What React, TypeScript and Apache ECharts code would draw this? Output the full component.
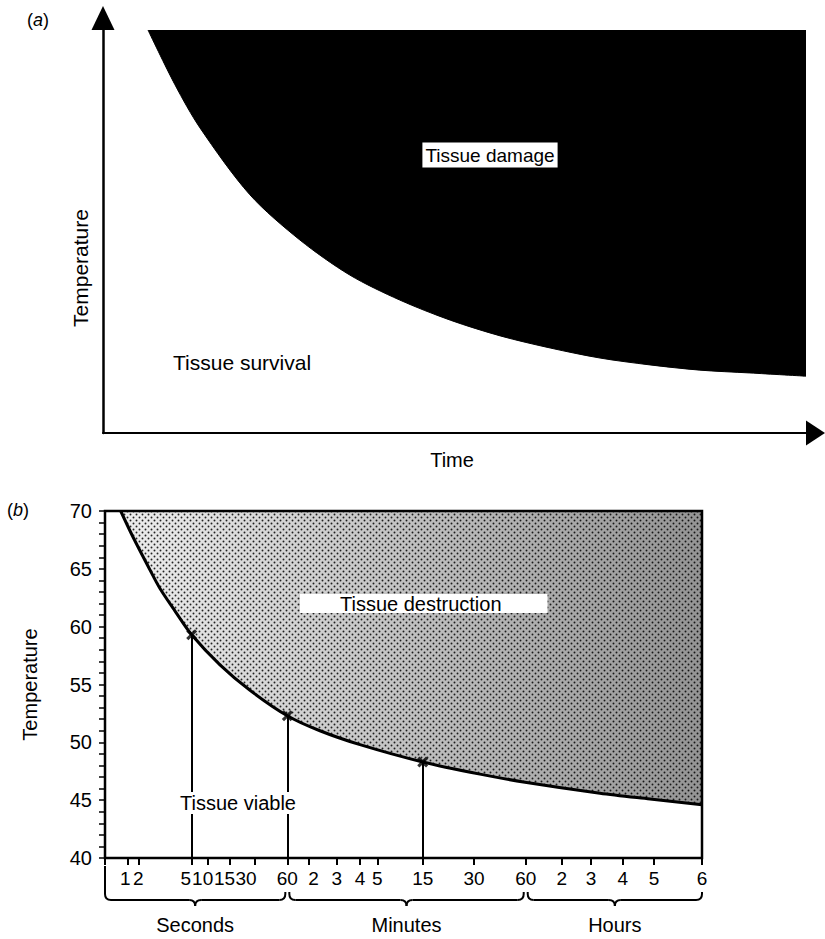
import { useEffect, useRef } from 'react';
import * as echarts from 'echarts';

const FONT = '"Liberation Sans", Arial, Helvetica, sans-serif';

// (a) schematic damage boundary, both axes on an arbitrary 0–100 scale
const damageTime = [6.4, 10.24, 13.8, 20.9, 28.0, 35.1, 42.2, 49.4, 56.5, 63.6, 70.7, 77.8, 84.9, 92.0, 100];
const damageTemp = [100, 86.4, 75.7, 59.1, 47.9, 39.2, 33.0, 28.0, 24.1, 21.1, 18.6, 16.9, 15.6, 14.9, 14.1];

// (b) time axis: tick labels and where each sits along the 0–100 time scale
const timeTickLabels = ['1', '2', '5', '10', '15', '30', '60', '2', '3', '4', '5', '15', '30', '60', '2', '3', '4', '5', '6'];
const timeTickPos = [3.8, 5.58, 14.52, 17.2, 20.94, 25.13, 30.54, 34.17, 38.81, 42.71, 45.61, 53.22, 61.81, 70.47, 76.5, 81.41, 86.72, 91.96, 100];
// sideways nudge (px) for labels squeezed together on the seconds scale
const labelNudge = [-2.5, 0, -6, -5, -5.5, -9, 0, 4.5, 0, 0, 0, 0, 0, 0, 0, 0, 0, 0, 0];
const timeUnits = ['Seconds', 'Minutes', 'Hours'];
const unitBounds = [0, 30.54, 70.47, 100];

// (b) threshold temperature (°C) against time position
const curveTime = [2.63, 4.69, 7.54, 9.21, 11.73, 14.52, 19.26, 24.29, 30.54, 36.0, 42.71, 53.22, 62.8, 70.35, 82.91, 91.29, 100];
const curveTemp = [70, 67.75, 64.9, 63.3, 61.35, 59.3, 56.7, 54.5, 52.3, 51.0, 49.8, 48.3, 47.25, 46.55, 45.6, 45.1, 44.6];

// marked points at 5 s, 60 s and 15 min
const markTime = [14.52, 30.54, 53.22];
const markTemp = [59.3, 52.3, 48.3];

const CROSS = 'path://M0,2L2,0L5,3L8,0L10,2L7,5L10,8L8,10L5,7L2,10L0,8L3,5Z';

export default function App() {
  const ref = useRef<HTMLDivElement>(null);

  useEffect(() => {
    const el = ref.current!;
    const chart = echarts.init(el, undefined, { renderer: 'svg' });

    // stipple tile for the destruction zone
    const tile = document.createElement('canvas');
    tile.width = 6;
    tile.height = 6;
    const ctx = tile.getContext('2d')!;
    ctx.fillStyle = 'rgba(0,0,0,0.85)';
    [[1.5, 1.5], [4.5, 4.5]].forEach(([cx, cy]) => {
      ctx.beginPath();
      ctx.arc(cx, cy, 0.95, 0, Math.PI * 2);
      ctx.fill();
    });

    const damageData = damageTime.map((t, i) => [t, damageTemp[i]]);
    const curveData = curveTime.map((t, i) => [t, curveTemp[i]]);
    const markData = markTime.map((t, i) => [t, markTemp[i]]);

    const rich: Record<string, any> = {};
    labelNudge.forEach((n, i) => {
      rich['p' + i] = {
        fontSize: 19,
        fontFamily: FONT,
        color: '#000',
        padding: n > 0 ? [0, 0, 0, 2 * n] : [0, -2 * n, 0, 0],
      };
    });

    const option: any = {
      animation: false,
      backgroundColor: '#fff',
      textStyle: { fontFamily: FONT, color: '#000' },
      grid: [
        { left: 103, top: 30, width: 703, height: 403, show: false },
        { left: 105, top: 511, width: 597, height: 347, show: true, borderColor: '#000', borderWidth: 2.5 },
      ],
      xAxis: [
        {
          gridIndex: 0, type: 'value', min: 0, max: 100,
          axisLine: {
            show: true, onZero: false, symbol: ['none', 'triangle'], symbolSize: [25, 19], symbolOffset: [0, 9.5],
            lineStyle: { color: '#000', width: 2 },
          },
          axisTick: { show: false }, axisLabel: { show: false }, splitLine: { show: false },
        },
        {
          gridIndex: 1, type: 'value', min: 0, max: 100,
          axisLine: { show: true, onZero: false, lineStyle: { color: '#000', width: 2 } },
          axisTick: { show: true, customValues: [0, ...timeTickPos], length: 7, lineStyle: { color: '#000', width: 2 } },
          axisLabel: {
            show: true, customValues: timeTickPos, margin: 11, fontSize: 19, color: '#000', rich,
            formatter: (v: number) => {
              const i = timeTickPos.findIndex((p) => Math.abs(p - v) < 1e-6);
              return i < 0 ? '' : `{p${i}|${timeTickLabels[i]}}`;
            },
          },
          splitLine: { show: false },
        },
      ],
      yAxis: [
        {
          gridIndex: 0, type: 'value', min: 0, max: 100,
          axisLine: {
            show: true, onZero: false, symbol: ['none', 'triangle'], symbolSize: [23, 24], symbolOffset: [0, 12],
            lineStyle: { color: '#000', width: 2.5 },
          },
          axisTick: { show: false }, axisLabel: { show: false }, splitLine: { show: false },
        },
        {
          gridIndex: 1, type: 'value', min: 40, max: 70, interval: 1,
          name: 'Temperature', nameLocation: 'middle', nameGap: 65, nameRotate: 90,
          nameTextStyle: { fontSize: 20, color: '#000', fontFamily: FONT },
          axisLine: { show: true, onZero: false, lineStyle: { color: '#000', width: 2 } },
          axisTick: { show: true, length: 6, lineStyle: { color: '#000', width: 1.5 } },
          axisLabel: {
            fontSize: 20, color: '#000', margin: 13,
            formatter: (v: number) => (v % 5 === 0 ? String(v) : ''),
          },
          splitLine: { show: false },
        },
      ],
      series: [
        {
          type: 'line', xAxisIndex: 0, yAxisIndex: 0, data: damageData, smooth: 0.3, showSymbol: false,
          lineStyle: { color: '#000', width: 1 },
          areaStyle: { color: '#000', opacity: 1, origin: 'end' },
        },
        {
          type: 'line', xAxisIndex: 1, yAxisIndex: 1, data: curveData, smooth: 0.3, showSymbol: false,
          lineStyle: { opacity: 0 },
          areaStyle: {
            origin: 'end', opacity: 1,
            color: new echarts.graphic.LinearGradient(0, 0, 1, 0, [
              { offset: 0, color: 'rgba(0,0,0,0.07)' },
              { offset: 1, color: 'rgba(0,0,0,0.42)' },
            ]),
          },
        },
        {
          type: 'line', xAxisIndex: 1, yAxisIndex: 1, data: curveData, smooth: 0.3, showSymbol: false,
          lineStyle: { opacity: 0 },
          areaStyle: { origin: 'end', opacity: 1, color: { image: tile, repeat: 'repeat' } },
        },
        {
          type: 'line', xAxisIndex: 1, yAxisIndex: 1, data: curveData, smooth: 0.3, showSymbol: false, z: 5,
          lineStyle: { color: '#000', width: 3 },
        },
        {
          type: 'scatter', xAxisIndex: 1, yAxisIndex: 1, data: markData, symbol: CROSS, symbolSize: 11, z: 6,
          itemStyle: { color: '#000' },
          markLine: {
            silent: true, symbol: ['none', 'none'],
            lineStyle: { color: '#000', width: 2, type: 'solid' },
            label: { show: false },
            data: markData.map(([t, v]) => [{ coord: [t, 40] }, { coord: [t, v] }]),
          },
        },
      ],
    };

    chart.setOption(option);

    // time-unit braces under the axis, placed from the axis scale
    const toX = (v: number) => (chart.convertToPixel({ gridIndex: 1 } as any, [v, 40]) as number[])[0];
    const y1 = 900;
    const r = 6;
    const braceEls: any[] = [];
    const stroke = { stroke: '#000', lineWidth: 2, fill: 'none' };
    timeUnits.forEach((name, i) => {
      const xs = toX(unitBounds[i]) + (i > 0 ? 2 : 0);
      const xe = toX(unitBounds[i + 1]) - (i < timeUnits.length - 1 ? 2 : 0);
      const mid = (xs + xe) / 2;
      const topL = i === 0 ? 866 : 892;
      braceEls.push(
        { type: 'line', shape: { x1: xs, y1: topL, x2: xs, y2: y1 - r }, style: stroke, z: 100 },
        { type: 'bezierCurve', shape: { x1: xs, y1: y1 - r, x2: xs + r, y2: y1, cpx1: xs, cpy1: y1 }, style: stroke, z: 100 },
        { type: 'line', shape: { x1: xs + r, y1, x2: mid - r, y2: y1 }, style: stroke, z: 100 },
        { type: 'bezierCurve', shape: { x1: mid - r, y1, x2: mid, y2: y1 + r, cpx1: mid, cpy1: y1 }, style: stroke, z: 100 },
        { type: 'bezierCurve', shape: { x1: mid, y1: y1 + r, x2: mid + r, y2: y1, cpx1: mid, cpy1: y1 }, style: stroke, z: 100 },
        { type: 'line', shape: { x1: mid + r, y1, x2: xe - r, y2: y1 }, style: stroke, z: 100 },
        { type: 'bezierCurve', shape: { x1: xe - r, y1, x2: xe, y2: y1 - r, cpx1: xe, cpy1: y1 }, style: stroke, z: 100 },
        { type: 'line', shape: { x1: xe, y1: y1 - r, x2: xe, y2: 892 }, style: stroke, z: 100 },
        {
          type: 'text', x: mid, y: 925, z: 100,
          style: { text: name, font: `20px ${FONT}`, fill: '#000', align: 'center', verticalAlign: 'middle' },
        },
      );
    });

    const txt = (text: string, x: number, y: number, size: number, extra: any = {}, el: any = {}) => ({
      type: 'text', x, y, z: 100, ...el,
      style: { text, font: `${size}px ${FONT}`, fill: '#000', align: 'center', verticalAlign: 'middle', ...extra },
    });

    chart.setOption({
      graphic: [
        txt('({i|a})', 27, 20, 18, { align: 'left', rich: { i: { fontStyle: 'italic', fontSize: 18, fontFamily: FONT } } }),
        txt('Tissue damage', 490, 155, 19, { backgroundColor: '#fff', padding: [3, 3] }),
        txt('Tissue survival', 173, 362, 21, { align: 'left' }),
        txt('Temperature', 80, 268, 21, {}, { rotation: Math.PI / 2 }),
        txt('Time', 452, 460, 20),
        txt('({i|b})', 7, 510, 18, { align: 'left', rich: { i: { fontStyle: 'italic', fontSize: 18, fontFamily: FONT } } }),
        txt('Tissue destruction', 300, 603.5, 20, { align: 'left', backgroundColor: '#fff', padding: [0, 46, 0, 40], lineHeight: 19 }),
        txt('Tissue viable', 238, 803, 20, { backgroundColor: '#fff', padding: [1, 2] }),
        ...braceEls,
      ],
    });

    return () => chart.dispose();
  }, []);

  return (
    <div
      ref={ref}
      style={{ position: 'fixed', left: 0, top: 0, width: 825, height: 939, background: '#fff' }}
    />
  );
}
